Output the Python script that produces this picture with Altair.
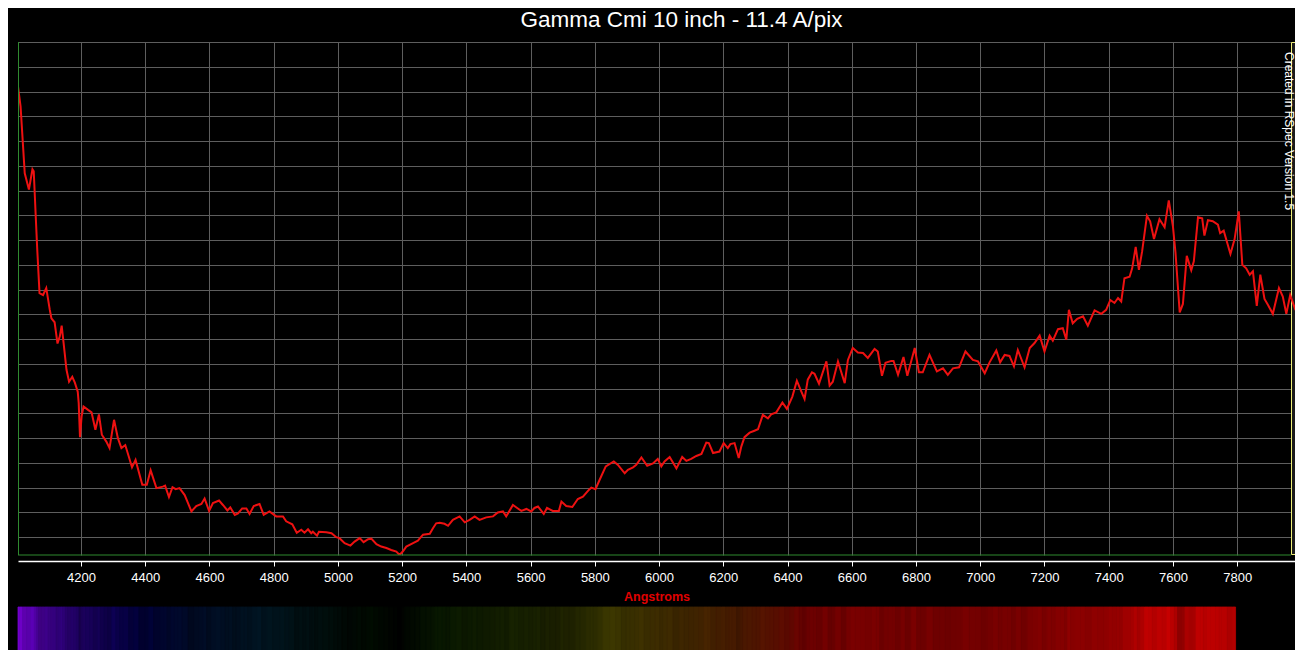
import altair as alt
import pandas as pd

# ---------------- data ----------------
wavelength = [4004, 4012, 4025, 4038, 4049, 4053, 4059, 4064, 4071, 4082, 4092, 4103, 4108, 4118, 4127, 4134, 4140, 4146, 4155, 4163,
              4173, 4181, 4190, 4193, 4197, 4202, 4208, 4222, 4233, 4245, 4256, 4265, 4279, 4289, 4303, 4315, 4326, 4338, 4359, 4370,
              4391, 4405, 4417, 4435, 4455, 4462, 4474, 4485, 4495, 4507, 4523, 4544, 4559, 4575, 4585, 4599, 4611, 4630, 4642, 4656,
              4665, 4679, 4689, 4702, 4715, 4725, 4738, 4756, 4769, 4787, 4808, 4829, 4839, 4858, 4872, 4886, 4896, 4907, 4917, 4922,
              4935, 4941, 4964, 4980, 4995, 5005, 5021, 5039, 5052, 5068, 5080, 5094, 5104, 5120, 5135, 5151, 5166, 5182, 5192, 5202,
              5213, 5234, 5249, 5265, 5286, 5296, 5306, 5317, 5332, 5343, 5358, 5379, 5395, 5410, 5426, 5441, 5462, 5483, 5498, 5514,
              5524, 5545, 5556, 5571, 5587, 5602, 5612, 5623, 5641, 5651, 5669, 5688, 5696, 5711, 5730, 5747, 5763, 5782, 5789, 5802,
              5815, 5834, 5859, 5872, 5893, 5903, 5919, 5929, 5945, 5963, 5981, 5996, 6007, 6017, 6033, 6054, 6072, 6085, 6100, 6116,
              6132, 6147, 6155, 6168, 6188, 6201, 6214, 6222, 6235, 6248, 6256, 6266, 6282, 6297, 6308, 6323, 6339, 6349, 6365, 6384,
              6398, 6415, 6429, 6443, 6453, 6463, 6476, 6484, 6498, 6521, 6531, 6541, 6557, 6578, 6588, 6603, 6619, 6635, 6650, 6671,
              6681, 6694, 6705, 6723, 6730, 6744, 6761, 6773, 6796, 6809, 6821, 6842, 6865, 6884, 6899, 6915, 6934, 6954, 6977, 6993,
              7014, 7029, 7050, 7062, 7076, 7091, 7105, 7117, 7138, 7154, 7169, 7185, 7200, 7216, 7226, 7242, 7257, 7268, 7276, 7288,
              7302, 7320, 7335, 7356, 7377, 7392, 7405, 7418, 7429, 7439, 7449, 7465, 7473, 7484, 7494, 7504, 7519, 7529, 7541, 7558,
              7574, 7587, 7600, 7608, 7621, 7631, 7643, 7657, 7665, 7678, 7691, 7698, 7709, 7724, 7740, 7747, 7758, 7779, 7792, 7805,
              7816, 7828, 7839, 7849, 7861, 7872, 7885, 7896, 7911, 7930, 7942, 7953, 7965, 7979, 7989, 7999]

intensity = [0.910, 0.870, 0.735, 0.702, 0.743, 0.739, 0.651, 0.580, 0.493, 0.489, 0.503, 0.459, 0.442, 0.434, 0.391, 0.405, 0.427, 0.392, 0.338, 0.314,
             0.324, 0.312, 0.294, 0.271, 0.202, 0.244, 0.264, 0.257, 0.252, 0.217, 0.248, 0.207, 0.193, 0.180, 0.237, 0.200, 0.180, 0.186, 0.141, 0.156,
             0.106, 0.106, 0.135, 0.099, 0.102, 0.104, 0.081, 0.101, 0.097, 0.099, 0.085, 0.052, 0.063, 0.067, 0.078, 0.053, 0.069, 0.074, 0.065, 0.054,
             0.060, 0.045, 0.048, 0.058, 0.058, 0.047, 0.063, 0.067, 0.045, 0.052, 0.042, 0.042, 0.032, 0.026, 0.009, 0.015, 0.009, 0.016, 0.008, 0.011,
             0.003, 0.011, 0.010, 0.008, 0.000, -0.002, -0.012, -0.017, -0.009, -0.002, -0.010, -0.004, -0.003, -0.014, -0.019, -0.022, -0.026, -0.029, -0.036, -0.029,
             -0.019, -0.012, -0.007, 0.005, 0.007, 0.018, 0.028, 0.029, 0.027, 0.023, 0.035, 0.042, 0.030, 0.035, 0.042, 0.035, 0.040, 0.042, 0.050, 0.052,
             0.042, 0.065, 0.060, 0.053, 0.057, 0.052, 0.059, 0.062, 0.047, 0.059, 0.053, 0.053, 0.072, 0.063, 0.061, 0.077, 0.082, 0.096, 0.100, 0.097,
             0.116, 0.143, 0.153, 0.146, 0.129, 0.136, 0.141, 0.146, 0.161, 0.144, 0.149, 0.158, 0.143, 0.153, 0.162, 0.139, 0.162, 0.154, 0.158, 0.164,
             0.168, 0.191, 0.190, 0.170, 0.173, 0.190, 0.180, 0.188, 0.190, 0.160, 0.183, 0.202, 0.211, 0.215, 0.218, 0.247, 0.240, 0.248, 0.252, 0.272,
             0.259, 0.284, 0.316, 0.294, 0.279, 0.318, 0.333, 0.330, 0.310, 0.355, 0.306, 0.314, 0.355, 0.311, 0.358, 0.382, 0.373, 0.372, 0.362, 0.380,
             0.375, 0.326, 0.352, 0.356, 0.356, 0.328, 0.364, 0.326, 0.382, 0.333, 0.333, 0.368, 0.335, 0.341, 0.328, 0.341, 0.343, 0.375, 0.358, 0.355,
             0.331, 0.353, 0.377, 0.353, 0.368, 0.366, 0.345, 0.378, 0.343, 0.382, 0.392, 0.407, 0.375, 0.407, 0.397, 0.420, 0.422, 0.399, 0.459, 0.432,
             0.441, 0.446, 0.427, 0.458, 0.451, 0.459, 0.479, 0.473, 0.483, 0.476, 0.523, 0.526, 0.543, 0.586, 0.540, 0.577, 0.649, 0.638, 0.602, 0.642,
             0.626, 0.680, 0.627, 0.574, 0.454, 0.471, 0.568, 0.539, 0.557, 0.646, 0.644, 0.609, 0.640, 0.638, 0.631, 0.614, 0.619, 0.572, 0.602, 0.658,
             0.550, 0.543, 0.530, 0.537, 0.467, 0.530, 0.481, 0.469, 0.451, 0.503, 0.486, 0.451, 0.489, 0.463, 0.479, 0.479]

tick_values = [4200, 4400, 4600, 4800, 5000, 5200, 5400, 5600, 5800, 6000,
               6200, 6400, 6600, 6800, 7000, 7200, 7400, 7600, 7800]
grid_values = [0.0, 0.05, 0.1, 0.15, 0.2, 0.25, 0.3, 0.35, 0.4, 0.45, 0.5,
               0.55, 0.6, 0.65, 0.7, 0.75, 0.8, 0.85, 0.9, 0.95, 1.0]

title_text = "Gamma Cmi 10 inch - 11.4 A/pix"
x_title = "Angstroms"
credit_text = "Created in RSpec Version 1.5"

assert len(wavelength) == len(intensity)

X_DOMAIN = [4004, 7980]
Y_DOMAIN = [-0.036, 1.0]
STRIP_END = 7795
W, H = 1277, 513
MARK_X = 1273  # left edge (px in plot) of the yellow framed end-marker

FONT = "Liberation Sans, Arial, sans-serif"


# ---------------- synthetic colour strip (colour of wavelength x intensity) ----------------
def wl_color(lam_a, level):
    l = lam_a / 10.0
    if l < 440:
        r, g, b = -(l - 440) / 60.0 * 0.8, 0.0, 1.0
    elif l < 490:
        r, g, b = 0.0, (l - 440) / 50.0 * 0.8, 1.0
    elif l < 510:
        r, g, b = 0.0, 0.8, -(l - 510) / 20.0
    elif l < 580:
        r, g, b = (l - 510) / 70.0, 1.0, 0.0
    elif l < 645:
        r, g, b = 1.0, -(l - 645) / 65.0, 0.0
    else:
        r, g, b = 1.0, 0.0, 0.0
    f = 0.55 + 0.45 * (l - 380) / 40.0 if l < 420 else 1.0

    def c(v):
        v = max(0.0, min(1.0, v * f * level))
        return int(round(255 * v ** 0.9)) if v > 0 else 0
    return "#%02x%02x%02x" % (c(r), c(g), c(b))


vmin, vmax = min(intensity), max(intensity)
strip_rows = []
n = len(wavelength)
for i in range(n):
    lo = X_DOMAIN[0] if i == 0 else (wavelength[i - 1] + wavelength[i]) / 2
    hi = X_DOMAIN[1] if i == n - 1 else (wavelength[i] + wavelength[i + 1]) / 2
    lo, hi = max(lo, X_DOMAIN[0]), min(hi, STRIP_END)
    if hi <= lo:
        continue
    lvl = (intensity[i] - vmin) / (vmax - vmin)
    strip_rows.append({"x0": lo, "x1": hi, "col": wl_color(wavelength[i], lvl)})

df = pd.DataFrame({"wavelength": wavelength, "intensity": intensity})
strip_df = pd.DataFrame(strip_rows)
one = pd.DataFrame({"k": [0]})

x_scale = alt.Scale(domain=X_DOMAIN, nice=False, zero=False)
y_scale = alt.Scale(domain=Y_DOMAIN, nice=False, zero=False)

x_axis = alt.Axis(values=tick_values, format="d", grid=True, gridColor="#5e5e5e", gridWidth=1,
                  domainColor="#ffffff", domainWidth=1.5, tickColor="#ffffff", tickSize=5, tickWidth=1,
                  labelColor="#ffffff", labelFont=FONT, labelFontSize=13, labelPadding=5,
                  offset=6, title=x_title, titleColor="#e00000", titleFont=FONT,
                  titleFontSize=12.5, titleFontWeight="bold", titlePadding=6)
y_axis = alt.Axis(values=grid_values, grid=True, gridColor="#5e5e5e", gridWidth=1,
                  labels=False, ticks=False, domain=False, title=None)

line = alt.Chart(df).mark_line(color="#ee1111", strokeWidth=2, clip=True).encode(
    x=alt.X("wavelength:Q", scale=x_scale, axis=x_axis),
    y=alt.Y("intensity:Q", scale=y_scale, axis=y_axis),
)

strip = alt.Chart(strip_df).mark_rect(strokeWidth=0.8).encode(
    x=alt.X("x0:Q", scale=x_scale),
    x2="x1:Q",
    y=alt.value(565),
    y2=alt.value(640),
    color=alt.Color("col:N", scale=None),
    stroke=alt.Color("col:N", scale=None),
)

marker = alt.Chart(one).mark_rect(fill="#1b1b1b", stroke="#eeee77", strokeWidth=1).encode(
    x=alt.value(MARK_X + 0.5), x2=alt.value(W + 2), y=alt.value(0.5), y2=alt.value(H - 0.5)
)

left_border = alt.Chart(one).mark_rule(color="#2f8a2f", strokeWidth=1).encode(
    x=alt.value(0.5), y=alt.value(0), y2=alt.value(H)
)
bottom_border = alt.Chart(one).mark_rule(color="#2f8a2f", strokeWidth=1.2).encode(
    x=alt.value(0), x2=alt.value(MARK_X), y=alt.value(H)
)

credit = alt.Chart(one).mark_text(
    text=credit_text, angle=90, align="left", baseline="middle",
    color="#ffffff", fontSize=12, font=FONT
).encode(x=alt.value(MARK_X - 2.5), y=alt.value(10))

chart = alt.layer(strip, marker, line, left_border, bottom_border, credit).properties(
    width=W, height=H,
    title=alt.TitleParams(text=title_text, color="#ffffff", fontSize=22.5, font=FONT,
                          fontWeight="normal", anchor="middle", dx=25, offset=10),
    autosize=alt.AutoSizeParams(type="none"),
    padding={"left": 10, "top": 34, "right": 0, "bottom": 95},
    background="#000000",
).configure_view(stroke=None)

chart.save("out.html", embed_options={"renderer": "svg", "actions": False})
